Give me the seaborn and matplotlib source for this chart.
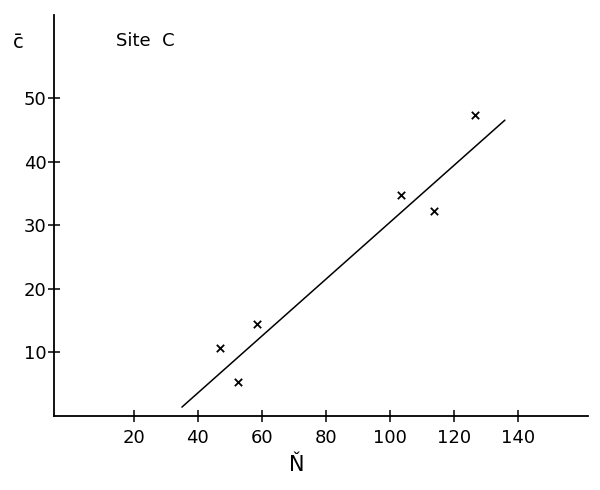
import matplotlib
matplotlib.use("Agg")
import matplotlib.pyplot as plt
import seaborn as sns
import pandas as pd

# data
n_values = [46.9, 52.5, 58.4, 103.4, 113.8, 126.6]
c_values = [10.7, 5.3, 14.5, 34.7, 32.2, 47.3]
fit_n = [35.0, 136.0]
fit_c = [1.4, 46.5]
x_ticks = [20, 40, 60, 80, 100, 120, 140]
y_ticks = [10, 20, 30, 40, 50]

sns.set_style("white")
plt.rcParams["font.family"] = ["DejaVu Sans"]
plt.rcParams["text.color"] = "black"

fig = plt.figure(figsize=(6, 4.9), dpi=100)
ax = fig.add_axes([0.09, 0.151, 0.89, 0.818])

pts = pd.DataFrame({"N": n_values, "C": c_values})
fit = pd.DataFrame({"N": fit_n, "C": fit_c})

sns.lineplot(data=fit, x="N", y="C", ax=ax, color="black", linewidth=1.1)
sns.scatterplot(data=pts, x="N", y="C", ax=ax, marker="x", color="black",
                s=28, linewidth=1.3)

ax.set_xlim(-5, 162)
ax.set_ylim(0, 63)
ax.set_xticks(x_ticks)
ax.set_yticks(y_ticks)
ax.set_xticklabels([str(v) for v in x_ticks], fontsize=13)
ax.set_yticklabels([str(v) for v in y_ticks], fontsize=13)
ax.tick_params(axis="both", which="major", bottom=True, left=True,
               direction="inout", length=9, width=1.1,
               color="black", labelcolor="black")
ax.tick_params(axis="x", pad=5)
ax.tick_params(axis="y", pad=1)
ax.set_xlabel("")
ax.set_ylabel("")
for side in ["top", "right"]:
    ax.spines[side].set_visible(False)
for side in ["left", "bottom"]:
    ax.spines[side].set_color("black")
    ax.spines[side].set_linewidth(1.3)

fig.text(18 / 600, 1 - 43 / 490, "c\u0304", fontsize=14, ha="center", va="center",
         color="black")
fig.text(297 / 600, 1 - 465 / 490, "\u0147", fontsize=15, ha="center", va="center",
         color="black")
fig.text(116 / 600, 1 - 41 / 490, "Site  C", fontsize=13, ha="left", va="center",
         color="black")

fig.savefig("out.png", dpi=100)
